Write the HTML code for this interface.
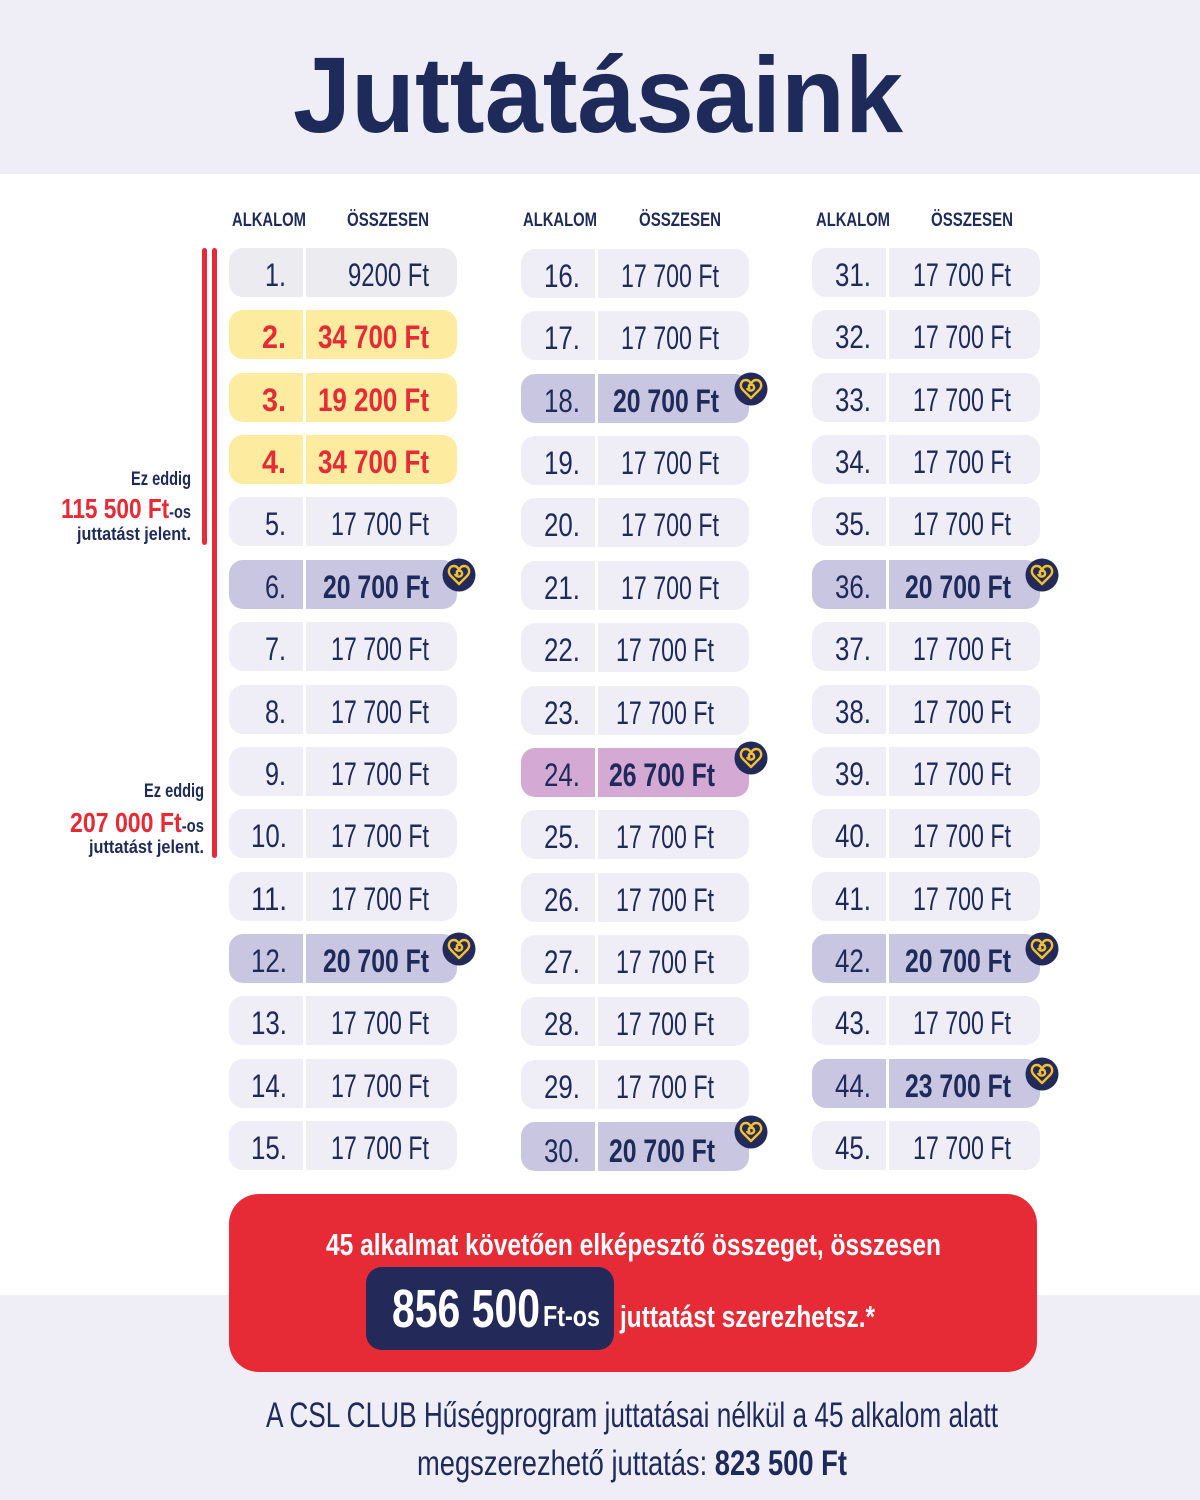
<!DOCTYPE html>
<html><head><meta charset="utf-8"><style>
html,body{margin:0;padding:0;background:#fff}
svg{display:block}
text{font-family:"Liberation Sans Narrow","Liberation Sans",sans-serif;fill:#1e2a5a}
.n{font-size:32px}
.a{font-size:32px}
.b{font-weight:bold}
.r{fill:#e62b37}
.w{fill:#fff}
.h{font-size:19px;font-weight:bold}
</style></head><body>
<svg width="1200" height="1500" viewBox="0 0 1200 1500" xmlns="http://www.w3.org/2000/svg">
<defs>
<g id="hrt"><circle r="16.5" fill="#232a5a"/><path d="M0 9 L-8 1 C-12 -3 -10 -9 -5 -9 C-2 -9 0 -6 0 -4 C0 -6 2 -9 5 -9 C10 -9 12 -3 8 1 Z M-1 0 C-5 -4 2 -7 3 -2 C4 2 -3 3 -4 -1" fill="none" stroke="#f2c12e" stroke-width="2.4" stroke-linejoin="round"/></g>
<g id="pN"><rect width="228" height="49" rx="14" fill="#efeef7"/><rect x="74" width="3" height="49" fill="#fff"/></g>
<g id="pP"><rect width="228" height="49" rx="14" fill="#c8c6e0"/><rect x="74" width="3" height="49" fill="#fff"/></g>
<g id="pK"><rect width="228" height="49" rx="14" fill="#d4a9d4"/><rect x="74" width="3" height="49" fill="#fff"/></g>
<g id="pY"><rect width="228" height="49" rx="14" fill="#fdeba0"/><rect x="74" width="3" height="49" fill="#fff"/></g>
<g id="pG"><rect width="228" height="49" rx="14" fill="#ebebf0"/><rect x="74" width="3" height="49" fill="#fff"/></g>
</defs>
<rect width="1200" height="174" fill="#efeef7"/>
<rect y="1295" width="1200" height="205" fill="#efeef7"/>
<text x="598" y="132" text-anchor="middle" font-size="108" font-weight="bold" textLength="610" lengthAdjust="spacingAndGlyphs" style="font-family:'Liberation Sans',sans-serif">Juttatásaink</text>

<text class="h" x="232" y="226" textLength="74" lengthAdjust="spacingAndGlyphs">ALKALOM</text>
<text class="h" x="347" y="226" textLength="82" lengthAdjust="spacingAndGlyphs">ÖSSZESEN</text>
<text class="h" x="523" y="226" textLength="74" lengthAdjust="spacingAndGlyphs">ALKALOM</text>
<text class="h" x="639" y="226" textLength="82" lengthAdjust="spacingAndGlyphs">ÖSSZESEN</text>
<text class="h" x="816" y="226" textLength="74" lengthAdjust="spacingAndGlyphs">ALKALOM</text>
<text class="h" x="931" y="226" textLength="82" lengthAdjust="spacingAndGlyphs">ÖSSZESEN</text>

<rect x="202" y="248" width="5" height="297" rx="2.5" fill="#e62b37"/>
<rect x="212" y="248" width="5" height="610" rx="2.5" fill="#e62b37"/>

<text x="191" y="485" text-anchor="end" font-size="19" font-weight="bold" textLength="60" lengthAdjust="spacingAndGlyphs">Ez eddig</text>
<text x="191" y="518" text-anchor="end" font-weight="bold" textLength="130" lengthAdjust="spacingAndGlyphs"><tspan class="r" font-size="28">115 500 Ft</tspan><tspan font-size="18">-os</tspan></text>
<text x="191" y="540" text-anchor="end" font-size="18" font-weight="bold" textLength="114" lengthAdjust="spacingAndGlyphs">juttatást jelent.</text>
<text x="204" y="797" text-anchor="end" font-size="19" font-weight="bold" textLength="60" lengthAdjust="spacingAndGlyphs">Ez eddig</text>
<text x="204" y="832" text-anchor="end" font-weight="bold" textLength="134" lengthAdjust="spacingAndGlyphs"><tspan class="r" font-size="28">207 000 Ft</tspan><tspan font-size="18">-os</tspan></text>
<text x="204" y="853" text-anchor="end" font-size="18" font-weight="bold" textLength="115" lengthAdjust="spacingAndGlyphs">juttatást jelent.</text>

<!-- Column 1 -->
<g transform="translate(229,248)"><use href="#pG"/><text class="n" x="57" y="38" text-anchor="end" textLength="21" lengthAdjust="spacingAndGlyphs">1.</text><text class="a" x="200" y="38" text-anchor="end" textLength="81" lengthAdjust="spacingAndGlyphs">9200 Ft</text></g>
<g transform="translate(229,310)"><use href="#pY"/><text class="n b r" x="57" y="38" text-anchor="end" textLength="24" lengthAdjust="spacingAndGlyphs">2.</text><text class="a b r" x="200" y="38" text-anchor="end" textLength="111" lengthAdjust="spacingAndGlyphs">34 700 Ft</text></g>
<g transform="translate(229,373)"><use href="#pY"/><text class="n b r" x="57" y="38" text-anchor="end" textLength="24" lengthAdjust="spacingAndGlyphs">3.</text><text class="a b r" x="200" y="38" text-anchor="end" textLength="111" lengthAdjust="spacingAndGlyphs">19 200 Ft</text></g>
<g transform="translate(229,435)"><use href="#pY"/><text class="n b r" x="57" y="38" text-anchor="end" textLength="24" lengthAdjust="spacingAndGlyphs">4.</text><text class="a b r" x="200" y="38" text-anchor="end" textLength="111" lengthAdjust="spacingAndGlyphs">34 700 Ft</text></g>
<g transform="translate(229,497)"><use href="#pN"/><text class="n" x="57" y="38" text-anchor="end" textLength="21" lengthAdjust="spacingAndGlyphs">5.</text><text class="a" x="200" y="38" text-anchor="end" textLength="98" lengthAdjust="spacingAndGlyphs">17 700 Ft</text></g>
<g transform="translate(229,560)"><use href="#pP"/><text class="n" x="57" y="38" text-anchor="end" textLength="21" lengthAdjust="spacingAndGlyphs">6.</text><text class="a b" x="200" y="38" text-anchor="end" textLength="106" lengthAdjust="spacingAndGlyphs">20 700 Ft</text><use href="#hrt" x="230" y="15"/></g>
<g transform="translate(229,622)"><use href="#pN"/><text class="n" x="57" y="38" text-anchor="end" textLength="21" lengthAdjust="spacingAndGlyphs">7.</text><text class="a" x="200" y="38" text-anchor="end" textLength="98" lengthAdjust="spacingAndGlyphs">17 700 Ft</text></g>
<g transform="translate(229,685)"><use href="#pN"/><text class="n" x="57" y="38" text-anchor="end" textLength="21" lengthAdjust="spacingAndGlyphs">8.</text><text class="a" x="200" y="38" text-anchor="end" textLength="98" lengthAdjust="spacingAndGlyphs">17 700 Ft</text></g>
<g transform="translate(229,747)"><use href="#pN"/><text class="n" x="57" y="38" text-anchor="end" textLength="21" lengthAdjust="spacingAndGlyphs">9.</text><text class="a" x="200" y="38" text-anchor="end" textLength="98" lengthAdjust="spacingAndGlyphs">17 700 Ft</text></g>
<g transform="translate(229,809)"><use href="#pN"/><text class="n" x="58" y="38" text-anchor="end" textLength="36" lengthAdjust="spacingAndGlyphs">10.</text><text class="a" x="200" y="38" text-anchor="end" textLength="98" lengthAdjust="spacingAndGlyphs">17 700 Ft</text></g>
<g transform="translate(229,872)"><use href="#pN"/><text class="n" x="58" y="38" text-anchor="end" textLength="36" lengthAdjust="spacingAndGlyphs">11.</text><text class="a" x="200" y="38" text-anchor="end" textLength="98" lengthAdjust="spacingAndGlyphs">17 700 Ft</text></g>
<g transform="translate(229,934)"><use href="#pP"/><text class="n" x="58" y="38" text-anchor="end" textLength="36" lengthAdjust="spacingAndGlyphs">12.</text><text class="a b" x="200" y="38" text-anchor="end" textLength="106" lengthAdjust="spacingAndGlyphs">20 700 Ft</text><use href="#hrt" x="230" y="15"/></g>
<g transform="translate(229,996)"><use href="#pN"/><text class="n" x="58" y="38" text-anchor="end" textLength="36" lengthAdjust="spacingAndGlyphs">13.</text><text class="a" x="200" y="38" text-anchor="end" textLength="98" lengthAdjust="spacingAndGlyphs">17 700 Ft</text></g>
<g transform="translate(229,1059)"><use href="#pN"/><text class="n" x="58" y="38" text-anchor="end" textLength="36" lengthAdjust="spacingAndGlyphs">14.</text><text class="a" x="200" y="38" text-anchor="end" textLength="98" lengthAdjust="spacingAndGlyphs">17 700 Ft</text></g>
<g transform="translate(229,1121)"><use href="#pN"/><text class="n" x="58" y="38" text-anchor="end" textLength="36" lengthAdjust="spacingAndGlyphs">15.</text><text class="a" x="200" y="38" text-anchor="end" textLength="98" lengthAdjust="spacingAndGlyphs">17 700 Ft</text></g>

<!-- Column 2 -->
<g transform="translate(521,249)"><use href="#pN"/><text class="n" x="59" y="38" text-anchor="end" textLength="36" lengthAdjust="spacingAndGlyphs">16.</text><text class="a" x="198" y="38" text-anchor="end" textLength="98" lengthAdjust="spacingAndGlyphs">17 700 Ft</text></g>
<g transform="translate(521,311)"><use href="#pN"/><text class="n" x="59" y="38" text-anchor="end" textLength="36" lengthAdjust="spacingAndGlyphs">17.</text><text class="a" x="198" y="38" text-anchor="end" textLength="98" lengthAdjust="spacingAndGlyphs">17 700 Ft</text></g>
<g transform="translate(521,374)"><use href="#pP"/><text class="n" x="59" y="38" text-anchor="end" textLength="36" lengthAdjust="spacingAndGlyphs">18.</text><text class="a b" x="198" y="38" text-anchor="end" textLength="106" lengthAdjust="spacingAndGlyphs">20 700 Ft</text><use href="#hrt" x="230" y="15"/></g>
<g transform="translate(521,436)"><use href="#pN"/><text class="n" x="59" y="38" text-anchor="end" textLength="36" lengthAdjust="spacingAndGlyphs">19.</text><text class="a" x="198" y="38" text-anchor="end" textLength="98" lengthAdjust="spacingAndGlyphs">17 700 Ft</text></g>
<g transform="translate(521,498)"><use href="#pN"/><text class="n" x="59" y="38" text-anchor="end" textLength="36" lengthAdjust="spacingAndGlyphs">20.</text><text class="a" x="198" y="38" text-anchor="end" textLength="98" lengthAdjust="spacingAndGlyphs">17 700 Ft</text></g>
<g transform="translate(521,561)"><use href="#pN"/><text class="n" x="59" y="38" text-anchor="end" textLength="36" lengthAdjust="spacingAndGlyphs">21.</text><text class="a" x="198" y="38" text-anchor="end" textLength="98" lengthAdjust="spacingAndGlyphs">17 700 Ft</text></g>
<g transform="translate(521,623)"><use href="#pN"/><text class="n" x="59" y="38" text-anchor="end" textLength="36" lengthAdjust="spacingAndGlyphs">22.</text><text class="a" x="193" y="38" text-anchor="end" textLength="98" lengthAdjust="spacingAndGlyphs">17 700 Ft</text></g>
<g transform="translate(521,686)"><use href="#pN"/><text class="n" x="59" y="38" text-anchor="end" textLength="36" lengthAdjust="spacingAndGlyphs">23.</text><text class="a" x="193" y="38" text-anchor="end" textLength="98" lengthAdjust="spacingAndGlyphs">17 700 Ft</text></g>
<g transform="translate(521,748)"><use href="#pK"/><text class="n" x="59" y="38" text-anchor="end" textLength="36" lengthAdjust="spacingAndGlyphs">24.</text><text class="a b" x="194" y="38" text-anchor="end" textLength="106" lengthAdjust="spacingAndGlyphs">26 700 Ft</text><use href="#hrt" x="230" y="10"/></g>
<g transform="translate(521,810)"><use href="#pN"/><text class="n" x="59" y="38" text-anchor="end" textLength="36" lengthAdjust="spacingAndGlyphs">25.</text><text class="a" x="193" y="38" text-anchor="end" textLength="98" lengthAdjust="spacingAndGlyphs">17 700 Ft</text></g>
<g transform="translate(521,873)"><use href="#pN"/><text class="n" x="59" y="38" text-anchor="end" textLength="36" lengthAdjust="spacingAndGlyphs">26.</text><text class="a" x="193" y="38" text-anchor="end" textLength="98" lengthAdjust="spacingAndGlyphs">17 700 Ft</text></g>
<g transform="translate(521,935)"><use href="#pN"/><text class="n" x="59" y="38" text-anchor="end" textLength="36" lengthAdjust="spacingAndGlyphs">27.</text><text class="a" x="193" y="38" text-anchor="end" textLength="98" lengthAdjust="spacingAndGlyphs">17 700 Ft</text></g>
<g transform="translate(521,997)"><use href="#pN"/><text class="n" x="59" y="38" text-anchor="end" textLength="36" lengthAdjust="spacingAndGlyphs">28.</text><text class="a" x="193" y="38" text-anchor="end" textLength="98" lengthAdjust="spacingAndGlyphs">17 700 Ft</text></g>
<g transform="translate(521,1060)"><use href="#pN"/><text class="n" x="59" y="38" text-anchor="end" textLength="36" lengthAdjust="spacingAndGlyphs">29.</text><text class="a" x="193" y="38" text-anchor="end" textLength="98" lengthAdjust="spacingAndGlyphs">17 700 Ft</text></g>
<g transform="translate(521,1122)"><use href="#pP"/><text class="n" x="59" y="40" text-anchor="end" textLength="36" lengthAdjust="spacingAndGlyphs">30.</text><text class="a b" x="194" y="40" text-anchor="end" textLength="106" lengthAdjust="spacingAndGlyphs">20 700 Ft</text><use href="#hrt" x="230" y="10"/></g>

<!-- Column 3 -->
<g transform="translate(812,248)"><use href="#pN"/><text class="n" x="59" y="38" text-anchor="end" textLength="36" lengthAdjust="spacingAndGlyphs">31.</text><text class="a" x="199" y="38" text-anchor="end" textLength="98" lengthAdjust="spacingAndGlyphs">17 700 Ft</text></g>
<g transform="translate(812,310)"><use href="#pN"/><text class="n" x="59" y="38" text-anchor="end" textLength="36" lengthAdjust="spacingAndGlyphs">32.</text><text class="a" x="199" y="38" text-anchor="end" textLength="98" lengthAdjust="spacingAndGlyphs">17 700 Ft</text></g>
<g transform="translate(812,373)"><use href="#pN"/><text class="n" x="59" y="38" text-anchor="end" textLength="36" lengthAdjust="spacingAndGlyphs">33.</text><text class="a" x="199" y="38" text-anchor="end" textLength="98" lengthAdjust="spacingAndGlyphs">17 700 Ft</text></g>
<g transform="translate(812,435)"><use href="#pN"/><text class="n" x="59" y="38" text-anchor="end" textLength="36" lengthAdjust="spacingAndGlyphs">34.</text><text class="a" x="199" y="38" text-anchor="end" textLength="98" lengthAdjust="spacingAndGlyphs">17 700 Ft</text></g>
<g transform="translate(812,497)"><use href="#pN"/><text class="n" x="59" y="38" text-anchor="end" textLength="36" lengthAdjust="spacingAndGlyphs">35.</text><text class="a" x="199" y="38" text-anchor="end" textLength="98" lengthAdjust="spacingAndGlyphs">17 700 Ft</text></g>
<g transform="translate(812,560)"><use href="#pP"/><text class="n" x="59" y="38" text-anchor="end" textLength="36" lengthAdjust="spacingAndGlyphs">36.</text><text class="a b" x="199" y="38" text-anchor="end" textLength="106" lengthAdjust="spacingAndGlyphs">20 700 Ft</text><use href="#hrt" x="230" y="15"/></g>
<g transform="translate(812,622)"><use href="#pN"/><text class="n" x="59" y="38" text-anchor="end" textLength="36" lengthAdjust="spacingAndGlyphs">37.</text><text class="a" x="199" y="38" text-anchor="end" textLength="98" lengthAdjust="spacingAndGlyphs">17 700 Ft</text></g>
<g transform="translate(812,685)"><use href="#pN"/><text class="n" x="59" y="38" text-anchor="end" textLength="36" lengthAdjust="spacingAndGlyphs">38.</text><text class="a" x="199" y="38" text-anchor="end" textLength="98" lengthAdjust="spacingAndGlyphs">17 700 Ft</text></g>
<g transform="translate(812,747)"><use href="#pN"/><text class="n" x="59" y="38" text-anchor="end" textLength="36" lengthAdjust="spacingAndGlyphs">39.</text><text class="a" x="199" y="38" text-anchor="end" textLength="98" lengthAdjust="spacingAndGlyphs">17 700 Ft</text></g>
<g transform="translate(812,809)"><use href="#pN"/><text class="n" x="59" y="38" text-anchor="end" textLength="36" lengthAdjust="spacingAndGlyphs">40.</text><text class="a" x="199" y="38" text-anchor="end" textLength="98" lengthAdjust="spacingAndGlyphs">17 700 Ft</text></g>
<g transform="translate(812,872)"><use href="#pN"/><text class="n" x="59" y="38" text-anchor="end" textLength="36" lengthAdjust="spacingAndGlyphs">41.</text><text class="a" x="199" y="38" text-anchor="end" textLength="98" lengthAdjust="spacingAndGlyphs">17 700 Ft</text></g>
<g transform="translate(812,934)"><use href="#pP"/><text class="n" x="59" y="38" text-anchor="end" textLength="36" lengthAdjust="spacingAndGlyphs">42.</text><text class="a b" x="199" y="38" text-anchor="end" textLength="106" lengthAdjust="spacingAndGlyphs">20 700 Ft</text><use href="#hrt" x="230" y="15"/></g>
<g transform="translate(812,996)"><use href="#pN"/><text class="n" x="59" y="38" text-anchor="end" textLength="36" lengthAdjust="spacingAndGlyphs">43.</text><text class="a" x="199" y="38" text-anchor="end" textLength="98" lengthAdjust="spacingAndGlyphs">17 700 Ft</text></g>
<g transform="translate(812,1059)"><use href="#pP"/><text class="n" x="59" y="38" text-anchor="end" textLength="36" lengthAdjust="spacingAndGlyphs">44.</text><text class="a b" x="199" y="38" text-anchor="end" textLength="106" lengthAdjust="spacingAndGlyphs">23 700 Ft</text><use href="#hrt" x="230" y="15"/></g>
<g transform="translate(812,1121)"><use href="#pN"/><text class="n" x="59" y="38" text-anchor="end" textLength="36" lengthAdjust="spacingAndGlyphs">45.</text><text class="a" x="199" y="38" text-anchor="end" textLength="98" lengthAdjust="spacingAndGlyphs">17 700 Ft</text></g>

<!-- Red box -->
<rect x="229" y="1194" width="808" height="178" rx="30" fill="#e62b37"/>
<text class="w" x="326" y="1255" font-size="31" font-weight="bold" textLength="615" lengthAdjust="spacingAndGlyphs">45 alkalmat követően elképesztő összeget, összesen</text>
<rect x="366" y="1267" width="248" height="83" rx="16" fill="#232a5a"/>
<text class="w" x="392" y="1327" font-size="54" font-weight="bold" textLength="148" lengthAdjust="spacingAndGlyphs">856 500</text>
<text class="w" x="543" y="1326" font-size="29" font-weight="bold" textLength="57" lengthAdjust="spacingAndGlyphs">Ft-os</text>
<text class="w" x="620" y="1327" font-size="31" font-weight="bold" textLength="255" lengthAdjust="spacingAndGlyphs">juttatást szerezhetsz.*</text>

<text x="266" y="1427" font-size="35" textLength="732" lengthAdjust="spacingAndGlyphs">A CSL CLUB Hűségprogram juttatásai nélkül a 45 alkalom alatt</text>
<text x="417" y="1475" font-size="35" textLength="430" lengthAdjust="spacingAndGlyphs">megszerezhető juttatás: <tspan font-weight="bold">823 500 Ft</tspan></text>
</svg>
</body></html>
